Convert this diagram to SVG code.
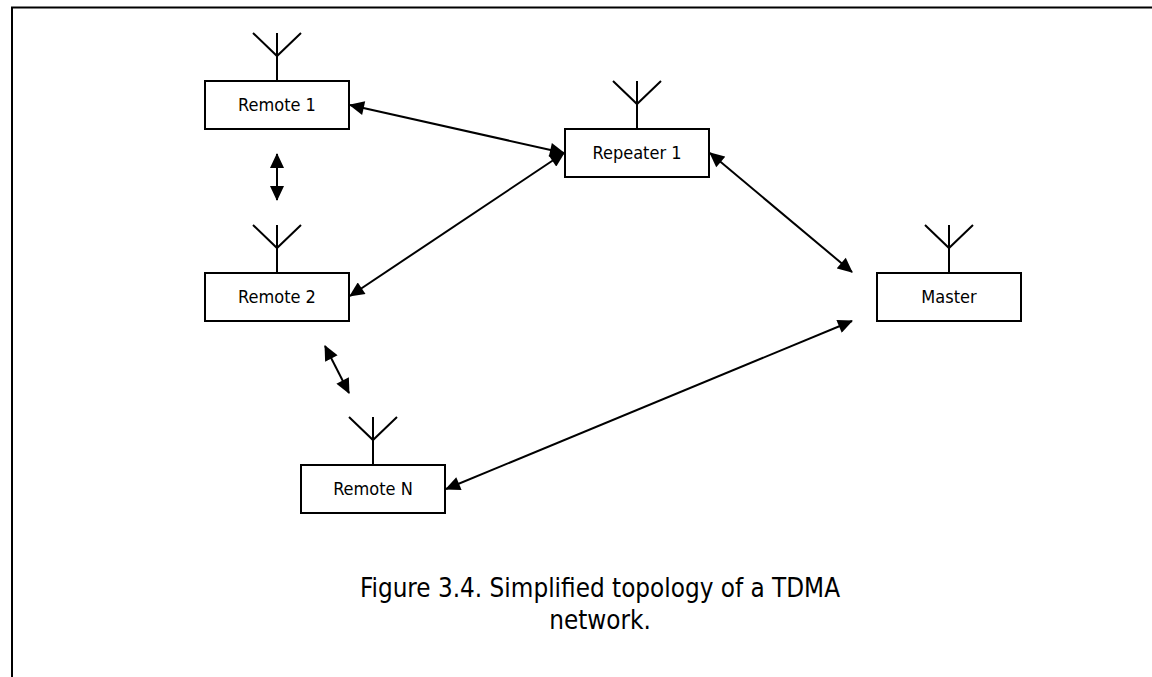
<svg xmlns="http://www.w3.org/2000/svg" width="1152" height="677" viewBox="0 0 1152 677">
  <style>
    .box { fill: #ffffff; stroke: #000000; stroke-width: 2; }
    .ant { fill: none; stroke: #000000; stroke-width: 2; }
    .lbl { font-family: "DejaVu Sans Condensed", "DejaVu Sans", sans-serif; font-stretch: condensed; font-size: 18px; fill: #000000; text-anchor: middle; }
    .cap { font-family: "DejaVu Sans Condensed", "DejaVu Sans", sans-serif; font-stretch: condensed; font-size: 25.8px; fill: #000000; text-anchor: middle; }
    .conn { fill: none; stroke: #000000; stroke-width: 2; marker-start: url(#ah); marker-end: url(#ah); }
  </style>
  <defs>
    <marker id="ah" markerUnits="userSpaceOnUse" markerWidth="16" markerHeight="14" viewBox="0 0 15 14" refX="14" refY="7" orient="auto-start-reverse">
      <path d="M0,0 L15,7 L0,14 Z" fill="#000000"/>
    </marker>
  </defs>
  <rect x="0" y="0" width="1152" height="677" fill="#ffffff"/>
  <path d="M12,677 V7.5 H1152" fill="none" stroke="#000000" stroke-width="2"/>

  <g id="connectors">
    <line class="conn" x1="350" y1="105" x2="564" y2="153"/>
    <line class="conn" x1="350" y1="296" x2="564" y2="153"/>
    <line class="conn" x1="710" y1="153" x2="852" y2="272"/>
    <line class="conn" x1="446" y1="489" x2="852" y2="321"/>
    <line class="conn" x1="277" y1="154" x2="277" y2="200"/>
    <line class="conn" x1="325" y1="346" x2="349" y2="393"/>
  </g>

  <g id="remote1">
    <path class="ant" d="M253,33 L277,56 L301,33 M277,33 V81"/>
    <rect class="box" x="205" y="81" width="144" height="48"/>
    <text class="lbl" x="277" y="111">Remote 1</text>
  </g>
  <g id="remote2">
    <path class="ant" d="M253,225 L277,248 L301,225 M277,225 V273"/>
    <rect class="box" x="205" y="273" width="144" height="48"/>
    <text class="lbl" x="277" y="303">Remote 2</text>
  </g>
  <g id="remoteN">
    <path class="ant" d="M349,417 L373,440 L397,417 M373,417 V465"/>
    <rect class="box" x="301" y="465" width="144" height="48"/>
    <text class="lbl" x="373" y="495">Remote N</text>
  </g>
  <g id="repeater1">
    <path class="ant" d="M613,81 L637,104 L661,81 M637,81 V129"/>
    <rect class="box" x="565" y="129" width="144" height="48"/>
    <text class="lbl" x="637" y="159">Repeater 1</text>
  </g>
  <g id="master">
    <path class="ant" d="M925,225 L949,248 L973,225 M949,225 V273"/>
    <rect class="box" x="877" y="273" width="144" height="48"/>
    <text class="lbl" x="949" y="303">Master</text>
  </g>

  <g id="caption">
    <text class="cap" x="600" y="597">Figure 3.4. Simplified topology of a TDMA</text>
    <text class="cap" x="600" y="629">network.</text>
  </g>
</svg>
